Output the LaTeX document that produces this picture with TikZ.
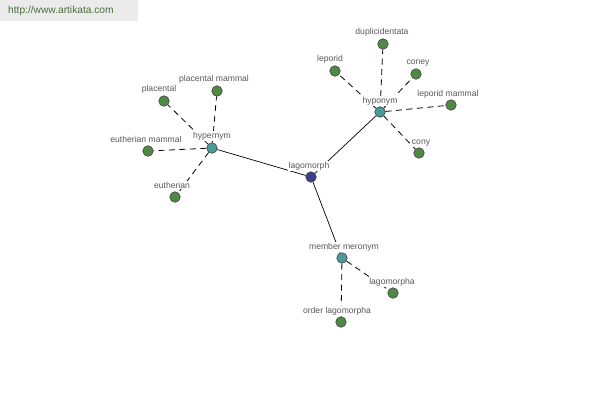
\documentclass[tikz,border=0pt]{standalone}
\usepackage{fontspec}
\setmainfont{Liberation Sans}
\definecolor{leafgreen}{HTML}{4F8A45}
\definecolor{hubteal}{HTML}{4A9A9A}
\definecolor{rootblue}{HTML}{3C3C8C}
\definecolor{urlgreen}{HTML}{4A6E3A}
\begin{document}
\begin{tikzpicture}[x=1pt,y=-1pt,
  leaf/.style={circle,draw=black!75,fill=leafgreen,minimum size=10.5pt,inner sep=0pt,line width=0.6pt},
  hub/.style={circle,draw=black!75,fill=hubteal,minimum size=10.5pt,inner sep=0pt,line width=0.6pt},
  root/.style={circle,draw=black!75,fill=rootblue,minimum size=10.5pt,inner sep=0pt,line width=0.6pt},
  lbl/.style={font=\fontsize{8.6}{9}\selectfont,text=black!65,fill=white,inner sep=0.5pt},
  rel/.style={line width=0.7pt,black},
  dsh/.style={line width=0.8pt,black,dash pattern=on 6pt off 4.5pt}]
\useasboundingbox (0,0) rectangle (600,400);
\fill[white] (0,0) rectangle (600,400);
\fill[black!8] (0,0) rectangle (138,21);
\node[font=\fontsize{10.2}{12}\selectfont,text=urlgreen,anchor=west,inner sep=0pt] (url) at (8,11) {http://www.artikata.com};
% nodes
\node[root] (lag) at (311,177) {};
\node[hub] (hyper) at (212,148) {};
\node[hub] (hypo) at (380,112) {};
\node[hub] (mero) at (342,258) {};
\node[leaf] (plac) at (164,101) {};
\node[leaf] (placm) at (217,91) {};
\node[leaf] (euthm) at (148,151) {};
\node[leaf] (euth) at (175,197) {};
\node[leaf] (dupl) at (383,44) {};
\node[leaf] (lepo) at (335,71) {};
\node[leaf] (coney) at (416,74) {};
\node[leaf] (lepom) at (451,105) {};
\node[leaf] (cony) at (419,153) {};
\node[leaf] (lagoa) at (393,293) {};
\node[leaf] (order) at (341,322) {};
% edges
\draw[rel] (lag) -- (hyper);
\draw[rel] (lag) -- (hypo);
\draw[rel] (lag) -- (mero);
\draw[dsh] (hyper) -- (plac);
\draw[dsh] (hyper) -- (placm);
\draw[dsh] (hyper) -- (euthm);
\draw[dsh] (hyper) -- (euth);
\draw[dsh] (hypo) -- (dupl);
\draw[dsh] (hypo) -- (lepo);
\draw[dsh] (hypo) -- (coney);
\draw[dsh] (hypo) -- (lepom);
\draw[dsh] (hypo) -- (cony);
\draw[dsh] (mero) -- (lagoa);
\draw[dsh] (mero) -- (order);
% labels
\node[lbl] (tlag) at (309,166) {lagomorph};
\node[lbl] (thyper) at (212,136) {hypernym};
\node[lbl] (thypo) at (380,101) {hyponym};
\node[lbl] (tmero) at (344,247) {member meronym};
\node[lbl] (tplac) at (159,89) {placental};
\node[lbl] (tplacm) at (214,79) {placental mammal};
\node[lbl] (teuthm) at (146,139) {eutherian mammal};
\node[lbl] (teuth) at (172,185) {eutherian};
\node[lbl] (tdupl) at (382,32) {duplicidentata};
\node[lbl] (tlepo) at (330,59) {leporid};
\node[lbl] (tconey) at (418,63) {coney};
\node[lbl] (tlepom) at (448,94) {leporid mammal};
\node[lbl] (tcony) at (421,143) {cony};
\node[lbl] (tlagoa) at (392,282) {lagomorpha};
\node[lbl] (torder) at (337,311) {order lagomorpha};
\end{tikzpicture}
\end{document}
